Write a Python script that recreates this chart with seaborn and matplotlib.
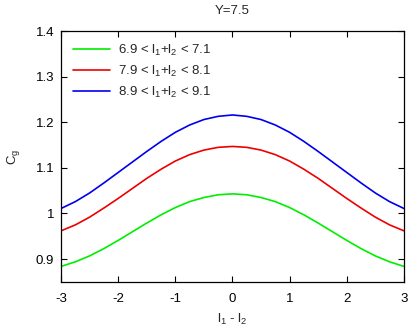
import matplotlib
matplotlib.use("Agg")
import matplotlib.pyplot as plt
import seaborn as sns
import pandas as pd

# l1 - l2
x = [-3.0, -2.75, -2.5, -2.25, -2.0, -1.75, -1.5, -1.25, -1.0, -0.75, -0.5, -0.25, 0.0,
     0.25, 0.5, 0.75, 1.0, 1.25, 1.5, 1.75, 2.0, 2.25, 2.5, 2.75, 3.0]

cg_green = [0.884, 0.894, 0.907, 0.923, 0.941, 0.960, 0.979, 0.997, 1.013, 1.026, 1.035, 1.041, 1.043,
            1.041, 1.035, 1.026, 1.013, 0.997, 0.979, 0.960, 0.941, 0.923, 0.907, 0.894, 0.884]
cg_red = [0.962, 0.975, 0.992, 1.012, 1.033, 1.055, 1.077, 1.097, 1.115, 1.129, 1.139, 1.145, 1.147,
          1.145, 1.139, 1.129, 1.115, 1.097, 1.077, 1.055, 1.033, 1.012, 0.992, 0.975, 0.962]
cg_blue = [1.011, 1.026, 1.045, 1.067, 1.090, 1.113, 1.136, 1.158, 1.178, 1.194, 1.206, 1.213, 1.216,
           1.213, 1.206, 1.194, 1.178, 1.158, 1.136, 1.113, 1.090, 1.067, 1.045, 1.026, 1.011]

labels = ["6.9 < l$_1$+l$_2$ < 7.1",
          "7.9 < l$_1$+l$_2$ < 8.1",
          "8.9 < l$_1$+l$_2$ < 9.1"]
colors = ["#00ee00", "#ee0000", "#0000ee"]

xticks = [-3, -2, -1, 0, 1, 2, 3]
yticks = [0.9, 1.0, 1.1, 1.2, 1.3, 1.4]
ytick_labels = ["0.9", "1", "1.1", "1.2", "1.3", "1.4"]

df = pd.concat([
    pd.DataFrame({"x": x, "cg": cg_green, "set": labels[0]}),
    pd.DataFrame({"x": x, "cg": cg_red, "set": labels[1]}),
    pd.DataFrame({"x": x, "cg": cg_blue, "set": labels[2]}),
])

sns.set_style("ticks")
plt.rcParams["font.family"] = ["Liberation Sans", "DejaVu Sans"]
plt.rcParams["mathtext.default"] = "regular"

fig = plt.figure(figsize=(4.1, 3.27), dpi=100)
ax = fig.add_axes([0.149, 0.138, 0.836, 0.767])

sns.lineplot(data=df, x="x", y="cg", hue="set", palette=dict(zip(labels, colors)),
             linewidth=1.2, ax=ax, sort=False)

ax.set_xlim(-3, 3)
ax.set_ylim(0.85, 1.4)
ax.set_xticks(xticks)
ax.set_xticklabels([str(t) for t in xticks])
ax.set_yticks(yticks)
ax.set_yticklabels(ytick_labels)
ax.tick_params(direction="in", length=4, width=0.8, labelsize=9.5,
               top=True, right=True, colors="black")
ax.tick_params(axis="x", pad=8)
ax.tick_params(axis="y", pad=5)
for s in ax.spines.values():
    s.set_color("black")
    s.set_linewidth(0.9)

ax.set_xlabel("l$_1$ - l$_2$", fontsize=9.5, labelpad=5)
ax.set_ylabel("C$_g$", fontsize=9.5, labelpad=10)
ax.set_title("Y=7.5", fontsize=9.5, pad=12)

ax.legend(loc="upper left", frameon=False, fontsize=9.5, handlelength=2.8,
          handletextpad=0.6, labelspacing=0.45, borderaxespad=0.4,
          borderpad=0.5, title=None)

fig.savefig("out.png", dpi=100)
